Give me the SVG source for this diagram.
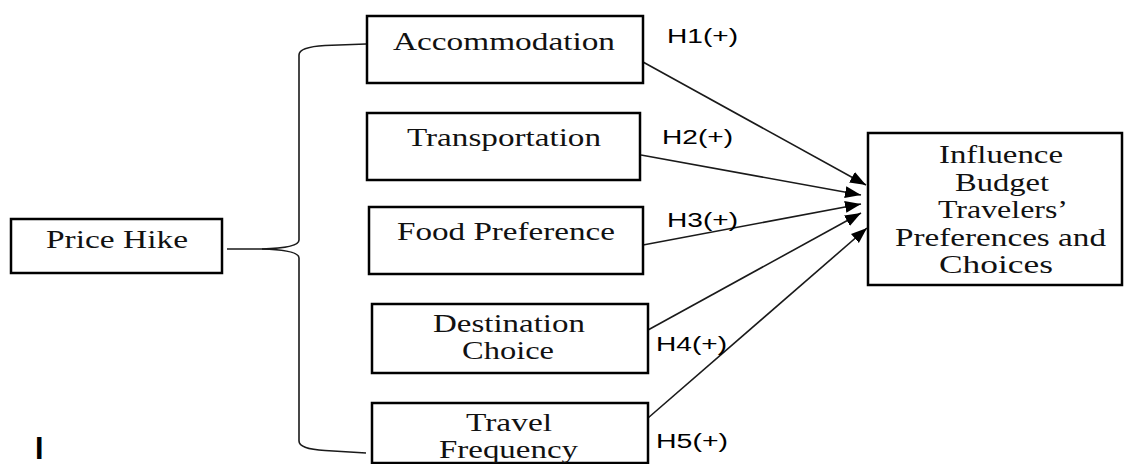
<svg xmlns="http://www.w3.org/2000/svg" width="1124" height="464" viewBox="0 0 1124 464">
<style>
.box{fill:#fff;stroke:#000;stroke-width:2.5}
.t{font-family:"Liberation Serif","Times New Roman",serif;font-size:25px;fill:#111}
.h{font-family:"Liberation Sans",Arial,sans-serif;font-size:19.5px;fill:#000}
.ln{fill:none;stroke:#1a1a1a;stroke-width:1.6}
</style>
<defs>
<marker id="ah" markerUnits="userSpaceOnUse" markerWidth="18" markerHeight="14" refX="16" refY="6" orient="auto">
<path d="M0,0 L16,6 L0,12 z" fill="#000"/>
</marker>
</defs>
<rect width="1124" height="464" fill="#fff"/>
<g id="connectors">
<path class="ln" d="M366,44 L325,45.5 Q299,47 299,55 L299,240 Q299,248 262,249 L227,249"/>
<path class="ln" d="M262,249 Q299,250 299,258 L299,441 Q299,449 325,450.5 L366,453"/>
<line class="ln" x1="643" y1="62" x2="866" y2="185" marker-end="url(#ah)"/>
<line class="ln" x1="641" y1="155" x2="861" y2="195" marker-end="url(#ah)"/>
<line class="ln" x1="643" y1="245" x2="861" y2="204" marker-end="url(#ah)"/>
<line class="ln" x1="648" y1="330" x2="861" y2="213" marker-end="url(#ah)"/>
<line class="ln" x1="648" y1="418" x2="867" y2="228" marker-end="url(#ah)"/>
</g>
<g id="price-hike">
<rect class="box" x="11" y="219" width="211" height="54"/>
<text class="t" x="46" y="248" textLength="142" lengthAdjust="spacingAndGlyphs">Price Hike</text>
</g>
<g id="accommodation">
<rect class="box" x="367" y="16" width="276" height="67"/>
<text class="t" x="393" y="50" textLength="222" lengthAdjust="spacingAndGlyphs">Accommodation</text>
</g>
<g id="transportation">
<rect class="box" x="367" y="113" width="273" height="67"/>
<text class="t" x="407" y="146" textLength="194" lengthAdjust="spacingAndGlyphs">Transportation</text>
</g>
<g id="food-preference">
<rect class="box" x="369" y="207" width="274" height="67"/>
<text class="t" x="397" y="240" textLength="218" lengthAdjust="spacingAndGlyphs">Food Preference</text>
</g>
<g id="destination-choice">
<rect class="box" x="372" y="304" width="276" height="69"/>
<text class="t" x="433" y="332" textLength="152" lengthAdjust="spacingAndGlyphs">Destination</text>
<text class="t" x="462" y="359" textLength="92" lengthAdjust="spacingAndGlyphs">Choice</text>
</g>
<g id="travel-frequency">
<rect class="box" x="372" y="403" width="276" height="60"/>
<text class="t" x="466" y="431" textLength="86" lengthAdjust="spacingAndGlyphs">Travel</text>
<text class="t" x="439" y="458" textLength="139" lengthAdjust="spacingAndGlyphs">Frequency</text>
</g>
<g id="influence">
<rect class="box" x="868" y="133" width="254" height="152"/>
<text class="t" x="939" y="163" textLength="124" lengthAdjust="spacingAndGlyphs">Influence</text>
<text class="t" x="955" y="191" textLength="94" lengthAdjust="spacingAndGlyphs">Budget</text>
<text class="t" x="938" y="218" textLength="130" lengthAdjust="spacingAndGlyphs">Travelers’</text>
<text class="t" x="895" y="246" textLength="211" lengthAdjust="spacingAndGlyphs">Preferences and</text>
<text class="t" x="939" y="273" textLength="114" lengthAdjust="spacingAndGlyphs">Choices</text>
</g>
<g id="labels">
<text class="h" x="667" y="43" textLength="71" lengthAdjust="spacingAndGlyphs">H1(+)</text>
<text class="h" x="662" y="144" textLength="71" lengthAdjust="spacingAndGlyphs">H2(+)</text>
<text class="h" x="667" y="227" textLength="71" lengthAdjust="spacingAndGlyphs">H3(+)</text>
<text class="h" x="656" y="351" textLength="71" lengthAdjust="spacingAndGlyphs">H4(+)</text>
<text class="h" x="656" y="448" textLength="72" lengthAdjust="spacingAndGlyphs">H5(+)</text>
<text x="35" y="459" font-family="Liberation Sans, Arial, sans-serif" font-size="30.5" font-weight="bold" fill="#000">I</text>
</g>
</svg>
